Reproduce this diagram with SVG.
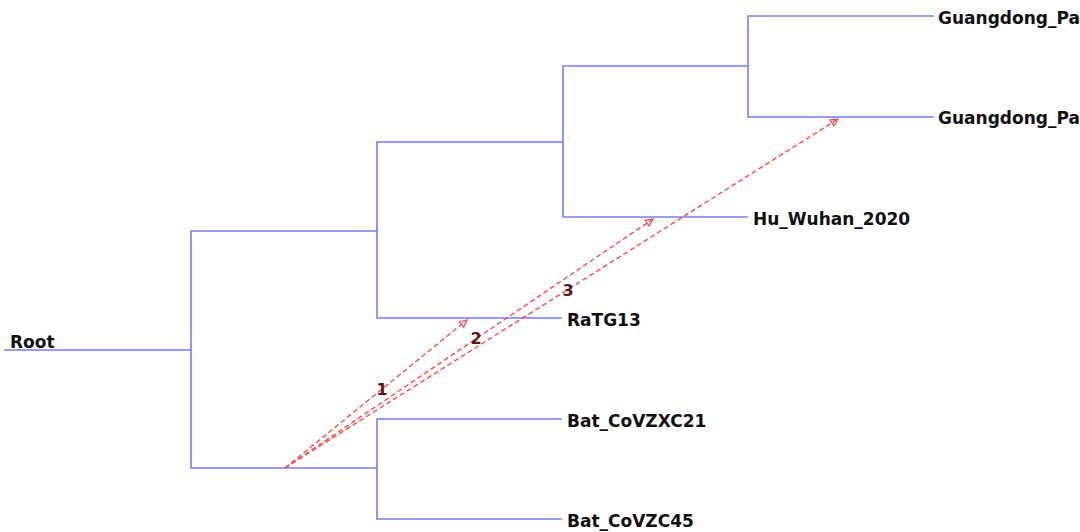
<svg xmlns="http://www.w3.org/2000/svg" width="1080" height="532" viewBox="0 0 1080 532">
<style>
.br{stroke:#7b7bf7;stroke-width:1.6;fill:none;stroke-linecap:square}
.lb{font-family:"DejaVu Sans",Verdana,sans-serif;font-weight:bold;font-size:17px;fill:#111}
.tr{stroke:#ff4a4a;stroke-width:1.4;stroke-dasharray:5 3;fill:none}
.tl{font-family:"DejaVu Sans",Verdana,sans-serif;font-weight:bold;font-size:16px;fill:#5a1414;text-anchor:middle}
</style>
<defs>
<marker id="ah" viewBox="0 0 10 10" refX="9" refY="5" markerWidth="9" markerHeight="9" markerUnits="userSpaceOnUse" orient="auto">
<path d="M1,1 L9,5 L1,9 z" fill="none" stroke="#ff4a4a" stroke-width="1.4"/>
</marker>
</defs>
<rect width="1080" height="532" fill="#fff"/>
<g id="edges">
<path class="br" d="M5,350 H191 M191,231 V468 M191,231 H377 M191,468 H377 M377,142 V318 M377,142 H563 M377,318 H561 M563,66 V217 M563,66 H748 M563,217 H747 M748,16 V117 M748,16 H933 M748,117 H933 M377,419 V519 M377,419 H561 M377,519 H561"/>
</g>
<g id="root"><text class="lb" x="10" y="348">Root</text></g>
<g id="guangdong1"><text class="lb" x="938" y="24">Guangdong_Pa</text></g>
<g id="guangdong2"><text class="lb" x="938" y="124">Guangdong_Pa</text></g>
<g id="hu_wuhan"><text class="lb" x="753" y="225">Hu_Wuhan_2020</text></g>
<g id="ratg13"><text class="lb" x="567" y="326">RaTG13</text></g>
<g id="bat21"><text class="lb" x="567" y="427">Bat_CoVZXC21</text></g>
<g id="bat45"><text class="lb" x="567" y="527">Bat_CoVZC45</text></g>
<g id="transfers">
<line class="tr" x1="285" y1="468" x2="467" y2="320" marker-end="url(#ah)"/>
<line class="tr" x1="285" y1="468" x2="653" y2="219" marker-end="url(#ah)"/>
<line class="tr" x1="285" y1="468" x2="838" y2="119" marker-end="url(#ah)"/>
<text class="tl" x="382" y="395">1</text>
<text class="tl" x="476" y="344">2</text>
<text class="tl" x="568" y="296">3</text>
</g>
</svg>
